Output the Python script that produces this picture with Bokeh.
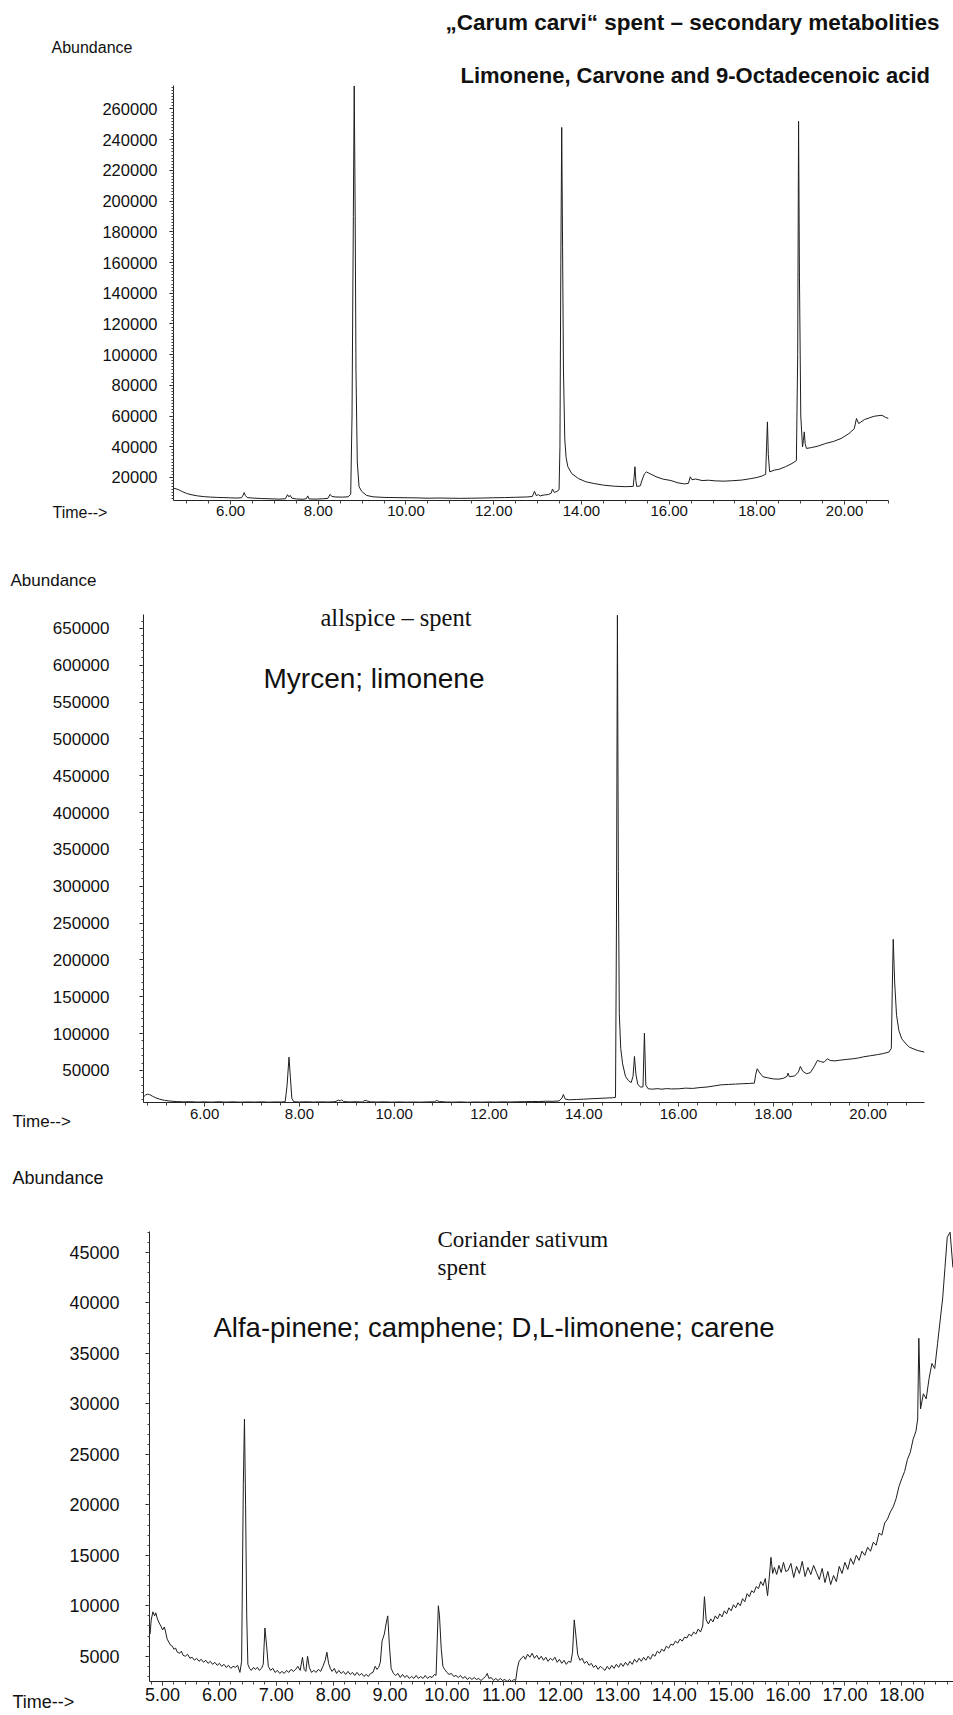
from bokeh.plotting import figure
from bokeh.models import Label, FixedTicker, NumeralTickFormatter, PrintfTickFormatter, Range1d
from bokeh.embed import file_html
from bokeh.resources import INLINE

# ---------------- data: Carum carvi spent ----------------
p1_time = [4.70, 4.76, 4.82, 4.90, 5.00, 5.10, 5.25, 5.40, 5.55, 5.70, 5.85, 6.00, 6.15, 6.25, 6.29, 6.31,
           6.34, 6.38, 6.50, 6.70, 6.90, 7.10, 7.25, 7.30, 7.33, 7.36, 7.40, 7.50, 7.65, 7.73, 7.76, 7.79,
           7.95, 8.10, 8.22, 8.27, 8.31, 8.40, 8.55, 8.68, 8.74, 8.77, 8.80, 8.82, 8.84, 8.86, 8.89, 8.93,
           8.99, 9.10, 9.25, 9.50, 9.75, 10.00, 10.25, 10.50, 10.75, 11.00, 11.25, 11.50, 11.75, 12.00,
           12.25, 12.50, 12.75, 12.88, 12.93, 12.97, 13.02, 13.06, 13.15, 13.25, 13.31, 13.34, 13.38, 13.44,
           13.49, 13.51, 13.53, 13.55, 13.57, 13.59, 13.62, 13.65, 13.69, 13.78, 13.93, 14.10, 14.28, 14.50,
           14.75, 15.00, 15.18, 15.20, 15.22, 15.24, 15.26, 15.34, 15.39, 15.44, 15.48, 15.56, 15.70, 15.85,
           16.04, 16.20, 16.35, 16.44, 16.48, 16.52, 16.60, 16.75, 16.90, 17.05, 17.25, 17.45, 17.65, 17.85,
           18.00, 18.12, 18.20, 18.22, 18.24, 18.26, 18.29, 18.40, 18.50, 18.65, 18.80, 18.90, 18.93, 18.95,
           18.97, 19.00, 19.04, 19.06, 19.08, 19.10, 19.13, 19.25, 19.39, 19.56, 19.75, 19.92, 20.10, 20.22,
           20.27, 20.32, 20.45, 20.60, 20.68, 20.78, 20.85, 20.93, 21.00]
p1_abund = [13000, 12600, 12000, 10800, 9600, 8800, 8000, 7500, 7200, 7000, 6900, 6700, 6600, 6800, 8600, 10200,
            8200, 6900, 6600, 6300, 6100, 5900, 6100, 8800, 7400, 8300, 6500, 6000, 5800, 6200, 8000, 6000,
            5900, 6100, 6400, 9000, 7600, 7300, 7200, 7400, 9000, 60000, 190000, 275000, 200000, 90000, 30000, 14000,
            11000, 8300, 7400, 7000, 6900, 6800, 6700, 6500, 6600, 6500, 6400, 6500, 6600, 6800,
            6900, 7100, 7300, 7600, 11000, 8200, 8800, 8000, 8600, 8900, 9800, 12500, 10300, 10900,
            12000, 40000, 160000, 248000, 170000, 90000, 45000, 33000, 27000, 22500, 19300, 17200, 16100, 15000,
            14300, 14000, 14200, 20000, 27000, 18000, 14200, 14500, 19000, 22500, 23600, 22500, 20500, 19000,
            18000, 16500, 15800, 16200, 20400, 18500, 19000, 18000, 18200, 17800, 17600, 17900, 18300, 19200,
            20000, 21000, 22100, 40000, 56200, 35000, 23700, 24800, 25300, 27000, 29100, 31000, 100000, 252000,
            150000, 60000, 39900, 44000, 49700, 42000, 38900, 39500, 40400, 42100, 43500, 45400, 48600, 51800,
            58400, 55100, 57700, 59200, 59900, 60300, 60500, 59200, 58400]
p1_xrange = [4.70, 21.00]
p1_yrange = [5000, 275300]
p1_xticks = [6.0, 8.0, 10.0, 12.0, 14.0, 16.0, 18.0, 20.0]
p1_yticks = [20000, 40000, 60000, 80000, 100000, 120000, 140000, 160000, 180000, 200000, 220000, 240000, 260000]

# ---------------- data: allspice spent ----------------
p2_time = [4.71, 4.75, 4.79, 4.84, 4.90, 4.97, 5.05, 5.15, 5.25, 5.40, 5.55, 5.70, 5.85, 6.00, 6.15, 6.30,
           6.45, 6.60, 6.75, 6.90, 7.05, 7.20, 7.35, 7.50, 7.62, 7.70, 7.74, 7.78, 7.81, 7.84, 7.88, 8.00,
           8.15, 8.30, 8.45, 8.60, 8.75, 8.83, 8.86, 8.89, 8.93, 9.05, 9.20, 9.33, 9.38, 9.43, 9.50, 9.65,
           9.80, 9.95, 10.10, 10.25, 10.40, 10.55, 10.70, 10.85, 10.90, 10.95, 11.10, 11.25, 11.40, 11.55,
           11.70, 11.85, 12.00, 12.15, 12.30, 12.45, 12.60, 12.75, 12.90, 13.05, 13.20, 13.35, 13.48, 13.54,
           13.57, 13.61, 13.70, 13.85, 14.00, 14.15, 14.30, 14.45, 14.60, 14.67, 14.69, 14.71, 14.73, 14.75,
           14.78, 14.82, 14.88, 14.94, 15.00, 15.04, 15.07, 15.10, 15.14, 15.20, 15.25, 15.28, 15.31, 15.36,
           15.45, 15.55, 15.65, 15.75, 15.85, 16.00, 16.15, 16.30, 16.45, 16.60, 16.75, 16.90, 17.05, 17.20,
           17.35, 17.50, 17.60, 17.63, 17.66, 17.70, 17.78, 17.88, 18.00, 18.12, 18.22, 18.29, 18.31, 18.34,
           18.45, 18.53, 18.57, 18.62, 18.70, 18.78, 18.86, 18.93, 19.00, 19.07, 19.14, 19.20, 19.30, 19.41,
           19.55, 19.70, 19.80, 19.90, 20.05, 20.20, 20.32, 20.44, 20.49, 20.51, 20.53, 20.56, 20.60, 20.65,
           20.71, 20.80, 20.87, 20.95, 21.05, 21.19]
p2_abund = [14000, 16500, 17800, 17200, 15000, 12800, 11000, 9500, 8600, 7800, 7400, 7600, 7100, 7400, 7000, 7500,
            7100, 7400, 7000, 7300, 7100, 7400, 7000, 7300, 7200, 7600, 30000, 68000, 40000, 12000, 7600, 7200,
            7500, 7100, 7400, 7200, 7500, 9800, 8200, 10200, 7800, 7300, 7500, 7200, 9300, 8600, 7400, 7200,
            7400, 7000, 7300, 7000, 7200, 7000, 7300, 7500, 9300, 7800, 7200, 7000, 7300, 6900,
            7200, 7000, 7300, 7100, 7400, 7200, 7500, 7600, 7900, 7800, 8200, 8100, 8600, 12500,
            17400, 11000, 10200, 10600, 11000, 11600, 12000, 12500, 12900, 13500, 250000, 668000, 320000, 127000,
            80000, 59000, 42000, 36400, 33500, 42000, 69000, 45000, 31000, 27400, 27800, 100600, 30000, 25100,
            24600, 25300, 24600, 25400, 24900, 25100, 26000, 25600, 26800, 27500, 29000, 30500, 31000, 31500,
            32000, 32400, 32800, 45000, 52300, 48000, 41500, 40000, 38500, 38200, 39500, 42000, 46400, 41500,
            42500, 48000, 55400, 49000, 45500, 47000, 55000, 63600, 62000, 61000, 65900, 63500, 63000, 64000,
            65000, 66000, 67000, 68500, 70000, 71500, 73000, 75000, 80000, 160000, 228000, 170000, 125000, 104000,
            93000, 86000, 81600, 79500, 77000, 74900]
p2_xrange = [4.71, 21.19]
p2_yrange = [6500, 669000]
p2_xticks = [6.0, 8.0, 10.0, 12.0, 14.0, 16.0, 18.0, 20.0]
p2_yticks = [50000, 100000, 150000, 200000, 250000, 300000, 350000, 400000, 450000, 500000, 550000, 600000, 650000]

# ---------------- data: Coriander sativum spent ----------------
p3_time = [4.78, 4.80, 4.83, 4.86, 4.88, 4.91, 4.94, 4.97, 5.00, 5.03, 5.05, 5.08, 5.11, 5.14, 5.17, 5.20,
           5.23, 5.26, 5.30, 5.33, 5.36, 5.40, 5.44, 5.48, 5.52, 5.56, 5.60, 5.64, 5.68, 5.72, 5.76, 5.80,
           5.84, 5.88, 5.92, 5.96, 6.00, 6.04, 6.08, 6.12, 6.16, 6.20, 6.24, 6.28, 6.32, 6.36, 6.39, 6.42,
           6.44, 6.46, 6.48, 6.50, 6.53, 6.56, 6.60, 6.63, 6.67, 6.70, 6.74, 6.77, 6.80, 6.83, 6.86, 6.90,
           6.94, 6.98, 7.02, 7.06, 7.10, 7.14, 7.18, 7.22, 7.26, 7.30, 7.34, 7.38, 7.42, 7.46, 7.49, 7.52,
           7.55, 7.58, 7.62, 7.66, 7.70, 7.74, 7.78, 7.82, 7.86, 7.89, 7.92, 7.95, 7.98, 8.02, 8.06, 8.10,
           8.14, 8.18, 8.22, 8.26, 8.30, 8.34, 8.38, 8.42, 8.46, 8.50, 8.54, 8.58, 8.62, 8.66, 8.70, 8.74,
           8.77, 8.80, 8.83, 8.86, 8.90, 8.93, 8.96, 8.99, 9.02, 9.06, 9.10, 9.14, 9.18, 9.22, 9.26, 9.30,
           9.34, 9.38, 9.42, 9.46, 9.50, 9.54, 9.58, 9.62, 9.66, 9.70, 9.74, 9.78, 9.81, 9.83, 9.85, 9.87,
           9.90, 9.93, 9.96, 10.00, 10.04, 10.08, 10.12, 10.16, 10.20, 10.24, 10.28, 10.32, 10.36, 10.40,
           10.44, 10.48, 10.52, 10.56, 10.60, 10.64, 10.68, 10.71, 10.74, 10.78, 10.82, 10.86, 10.90, 10.94,
           10.98, 11.02, 11.06, 11.10, 11.14, 11.18, 11.21, 11.24, 11.27, 11.31, 11.35, 11.38, 11.42, 11.46,
           11.50, 11.54, 11.58, 11.62, 11.66, 11.70, 11.74, 11.78, 11.82, 11.86, 11.90, 11.94, 11.98, 12.02,
           12.06, 12.10, 12.14, 12.18, 12.21, 12.24, 12.27, 12.30, 12.34, 12.38, 12.42, 12.46, 12.50, 12.54,
           12.58, 12.62, 12.66, 12.70, 12.74, 12.78, 12.82, 12.86, 12.90, 12.94, 12.98, 13.02, 13.06, 13.10,
           13.14, 13.18, 13.22, 13.26, 13.30, 13.34, 13.38, 13.42, 13.46, 13.50, 13.54, 13.58, 13.62, 13.66,
           13.70, 13.74, 13.78, 13.82, 13.86, 13.90, 13.94, 13.98, 14.02, 14.06, 14.10, 14.14, 14.18, 14.22,
           14.26, 14.30, 14.34, 14.38, 14.42, 14.46, 14.50, 14.53, 14.56, 14.60, 14.64, 14.68, 14.72, 14.76,
           14.80, 14.84, 14.88, 14.92, 14.96, 15.00, 15.04, 15.08, 15.12, 15.16, 15.20, 15.24, 15.28, 15.32,
           15.36, 15.40, 15.44, 15.48, 15.52, 15.56, 15.60, 15.64, 15.67, 15.70, 15.73, 15.76, 15.80, 15.84,
           15.88, 15.92, 15.96, 16.00, 16.05, 16.10, 16.15, 16.20, 16.25, 16.30, 16.35, 16.40, 16.45, 16.50,
           16.55, 16.60, 16.65, 16.70, 16.75, 16.80, 16.85, 16.90, 16.95, 17.00, 17.05, 17.10, 17.15, 17.20,
           17.25, 17.30, 17.35, 17.40, 17.45, 17.50, 17.55, 17.60, 17.65, 17.70, 17.75, 17.80, 17.85, 17.90,
           17.95, 18.00, 18.05, 18.10, 18.15, 18.20, 18.25, 18.28, 18.30, 18.33, 18.38, 18.43, 18.48, 18.53,
           18.58, 18.63, 18.68, 18.72, 18.76, 18.80, 18.85, 18.90]
p3_abund = [7200, 8600, 9400, 9000, 9300, 8700, 8300, 8000, 7600, 7900, 7500, 6700, 6400, 6100, 6000, 5700,
            5800, 5400, 5300, 5500, 5100, 5000, 5200, 4800, 4900, 4600, 4800, 4500, 4700, 4400, 4600, 4300,
            4500, 4200, 4400, 4100, 4300, 4000, 4200, 3900, 4100, 3800, 4000, 3900, 4100, 3400, 4500, 22000,
            28500, 20000, 9000, 4200, 3800, 3600, 3900, 3700, 3900, 3600, 3800, 4200, 7800, 6000, 4000, 3600,
            3800, 3400, 3600, 3300, 3500, 3300, 3600, 3400, 3700, 3500, 3700, 4000, 3600, 4900, 3700, 3500,
            5000, 3900, 3400, 3600, 3400, 3700, 3500, 4000, 4600, 5400, 4300, 3800, 3500, 3800, 3300, 3600,
            3300, 3500, 3200, 3500, 3200, 3400, 3100, 3400, 3100, 3300, 3000, 3200, 3000, 3300, 3400, 4000,
            3700, 3900, 4400, 6500, 7200, 8200, 9000, 6000, 3800, 3300, 3100, 3300, 2900, 3200, 2900, 3100,
            2800, 3000, 2800, 3100, 2800, 3000, 2800, 3100, 2800, 3000, 2900, 3200, 3100, 6500, 10000, 9000,
            5800, 4000, 3700, 3400, 3200, 3300, 3000, 3100, 2900, 3100, 2800, 3000, 2700, 2900,
            2700, 2900, 2700, 2800, 2600, 2800, 3000, 3300, 2800, 2900, 2600, 2800, 2600, 2800,
            2600, 2700, 2500, 2700, 2500, 2700, 2600, 3800, 4500, 4800, 5000, 4700, 5200, 4900,
            5300, 4800, 5100, 4700, 5000, 4600, 4900, 4500, 4800, 4600, 4900, 4400, 4700, 4300,
            4600, 4200, 4500, 4400, 5400, 8600, 7000, 5200, 4600, 4800, 4300, 4500, 4100, 4300,
            3900, 4100, 3700, 4000, 3800, 3600, 4000, 3700, 4100, 3800, 4200, 3900, 4300, 4000,
            4400, 4100, 4500, 4200, 4700, 4400, 4800, 4500, 4900, 4600, 5000, 4700, 5200, 5000,
            5500, 5300, 5700, 5500, 6000, 5800, 6200, 6100, 6500, 6300, 6700, 6500, 6900, 6800,
            7200, 7000, 7400, 7200, 7700, 7400, 8000, 10900, 8600, 8200, 8700, 8400, 9000, 8700,
            9200, 8900, 9500, 9200, 9800, 9500, 10100, 9800, 10300, 10000, 10700, 10400, 11200, 10900,
            11500, 11300, 11900, 11700, 12400, 12000, 12700, 11000, 12800, 14800, 13200, 13800, 13100, 14000,
            13300, 14300, 13400, 13500, 14200, 12800, 13900, 13200, 14400, 12900, 13800, 13100, 14000, 13300,
            12600, 13700, 12300, 13400, 12100, 13000, 12400, 13900, 13200, 14300, 13600, 14700, 14100, 15000,
            14500, 15400, 15000, 15800, 15400, 16300, 16000, 17200, 17000, 18200, 18600, 19300, 19800, 20600,
            21800, 22600, 23300, 24500, 25200, 26500, 27300, 28500, 36500, 29500, 31000, 30500, 32500, 34000,
            33500, 36000, 38500, 40500, 43500, 46500, 47000, 43500]
p3_xrange = [4.77, 18.91]
p3_yrange = [2500, 47075]
p3_xticks = [5.0, 6.0, 7.0, 8.0, 9.0, 10.0, 11.0, 12.0, 13.0, 14.0, 15.0, 16.0, 17.0, 18.0]
p3_yticks = [5000, 10000, 15000, 20000, 25000, 30000, 35000, 40000, 45000]

SANS = "Liberation Sans"
SERIF = "Liberation Serif"
INK = "#111111"
TRACE = "#1e1e1e"


def minor_list(lo, hi, step):
    out = []
    v = lo
    while v <= hi + 1e-9:
        out.append(round(v, 6))
        v += step
    return out


def make_fig(height, xr, yr, left, right, top, bottom):
    p = figure(width=953, height=height, x_range=Range1d(xr[0], xr[1]), y_range=Range1d(yr[0], yr[1]),
               output_backend="svg", toolbar_location=None,
               min_border_left=left, min_border_right=right, min_border_top=top, min_border_bottom=bottom)
    p.outline_line_color = None
    p.xgrid.visible = False
    p.ygrid.visible = False
    p.background_fill_color = "white"
    p.border_fill_color = "white"
    return p


def style_axes(p, xticks, xminor, yticks, yminor, xsize, ysize, xstand, ystand):
    p.xaxis.ticker = FixedTicker(ticks=xticks, minor_ticks=xminor)
    p.yaxis.ticker = FixedTicker(ticks=yticks, minor_ticks=yminor)
    p.xaxis.formatter = PrintfTickFormatter(format="%.2f")
    p.yaxis.formatter = NumeralTickFormatter(format="0")
    for ax in (p.xaxis, p.yaxis):
        ax.axis_line_color = "#222222"
        ax.axis_line_width = 1
        ax.major_tick_line_color = "#222222"
        ax.minor_tick_line_color = "#444444"
        ax.major_tick_in = 0
        ax.minor_tick_in = 0
        ax.major_tick_out = 4
        ax.minor_tick_out = 2
        ax.major_label_text_color = INK
        ax.major_label_text_font = SANS
    p.xaxis.minor_tick_out = 3
    p.xaxis.major_label_text_font_size = xsize
    p.yaxis.major_label_text_font_size = ysize
    p.xaxis.major_label_standoff = xstand
    p.yaxis.major_label_standoff = ystand


def add_text(p, side, x, y, text, font, size, bold=False):
    lab = Label(x=x, y=y, x_units="canvas", y_units="canvas", text=text,
                text_font=font, text_font_size=size,
                text_font_style="bold" if bold else "normal",
                text_baseline="middle", text_align="left", text_color=INK)
    if side == "center":
        p.add_layout(lab)
    else:
        p.add_layout(lab, side)


# ---------- panel 1 (canvas top at page y 0) ----------
p1 = make_fig(545, p1_xrange, p1_yrange, 173, 65, 85, 45)
p1.line(p1_time, p1_abund, line_color=TRACE, line_width=1)
style_axes(p1, p1_xticks, minor_list(5.0, 21.0, 0.5), p1_yticks, minor_list(6000, 274000, 2000),
           "15px", "16.5px", 1, 12)
add_text(p1, "above", 445, 22, "\u201eCarum carvi\u201c spent \u2013 secondary metabolities", SANS, "22.5px", True)
add_text(p1, "above", 460, 75, "Limonene, Carvone and 9-Octadecenoic acid", SANS, "22px", True)
add_text(p1, "above", 51, 47, "Abundance", SANS, "16px")
add_text(p1, "left", 52, 512, "Time-->", SANS, "16px")

# ---------- panel 2 (canvas top at page y 545) ----------
p2 = make_fig(605, p2_xrange, p2_yrange, 143, 29, 69, 48)
p2.line(p2_time, p2_abund, line_color=TRACE, line_width=1)
style_axes(p2, p2_xticks, minor_list(4.8, 21.2, 0.4), p2_yticks, minor_list(10000, 660000, 10000),
           "15px", "17px", 2, 30)
add_text(p2, "above", 10, 35, "Abundance", SANS, "17px")
add_text(p2, "above", 320, 72, "allspice \u2013 spent", SERIF, "24.5px")
add_text(p2, "center", 263, 133, "Myrcen; limonene", SANS, "28px")
add_text(p2, "below", 12, 576, "Time-->", SANS, "17px")

# ---------- panel 3 (canvas top at page y 1150) ----------
p3 = make_fig(563, p3_xrange, p3_yrange, 149, 0, 81, 32)
p3.line(p3_time, p3_abund, line_color=TRACE, line_width=1)
style_axes(p3, p3_xticks, minor_list(4.8, 18.8, 0.2), p3_yticks, minor_list(3000, 47000, 1000),
           "18px", "18px", 2, 26)
add_text(p3, "above", 12, 27, "Abundance", SANS, "18px")
add_text(p3, "above", 437, 89, "Coriander sativum", SERIF, "23px")
add_text(p3, "center", 437, 117, "spent", SERIF, "23px")
add_text(p3, "center", 213, 177, "Alfa-pinene; camphene; D,L-limonene; carene", SANS, "27.5px")
add_text(p3, "left", 12, 551, "Time-->", SANS, "18px")

open("out.html", "w", encoding="utf-8").write(file_html([p1, p2, p3], INLINE))
